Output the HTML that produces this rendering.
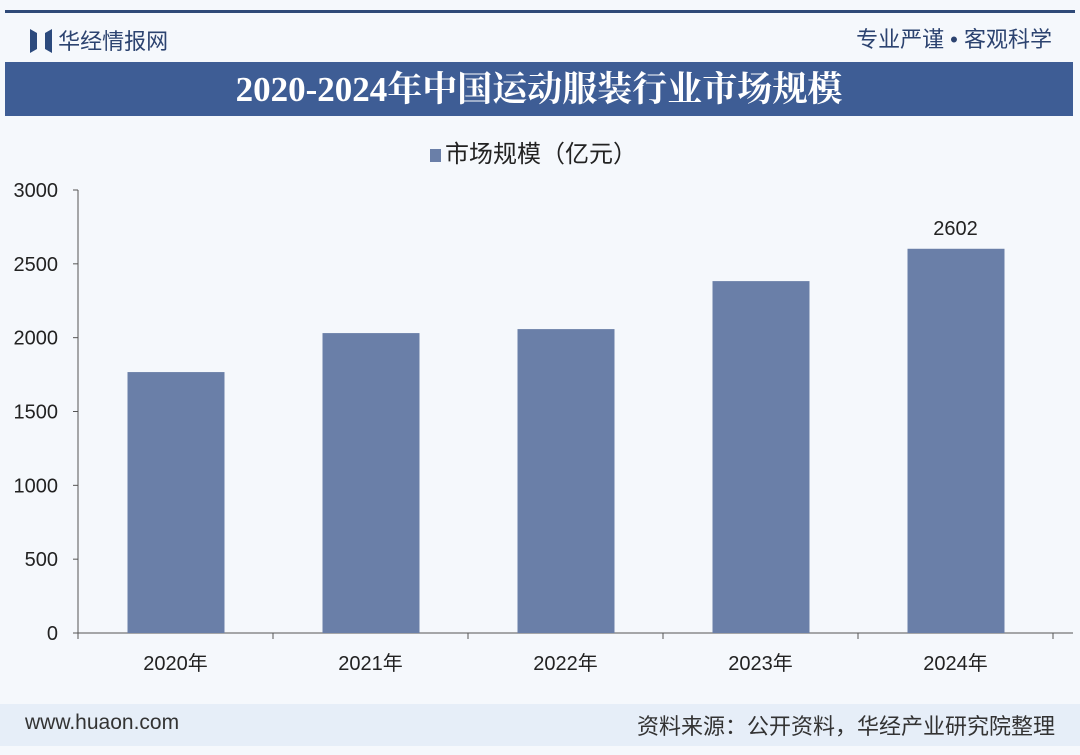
<!DOCTYPE html>
<html><head><meta charset="utf-8"><style>
body{margin:0;width:1080px;height:755px;background:#f5f8fc;font-family:"Liberation Sans","Noto Sans CJK SC",sans-serif;position:relative;overflow:hidden}
.a{position:absolute}
</style></head><body>
<div class="a" style="left:5px;top:10px;width:1070px;height:3px;background:#2f4a78"></div>
<div class="a" style="left:30px;top:24px;font-size:22px;color:#2c4370">
<svg width="22" height="24" style="vertical-align:-4px"><polygon points="0,0 7,4 7,20 0,24" fill="#2c4a7d"/><polygon points="22,0 15,4 15,20 22,24" fill="#2c4a7d"/></svg> 华经情报网</div>
<div class="a" style="right:28px;top:22px;font-size:22px;color:#2c4370">专业严谨 • 客观科学</div>
<div class="a" style="left:5px;top:62px;width:1068px;height:54px;background:#3e5d95;color:#fff;font-size:35px;font-weight:bold;text-align:center;line-height:56px;font-family:'Liberation Serif','Noto Serif CJK SC',serif">2020-2024年中国运动服装行业市场规模</div>
<div class="a" style="left:430px;top:134px;font-size:24px;color:#222"><span style="display:inline-block;width:11px;height:13px;background:#6a7fa8;margin-right:4px"></span>市场规模（亿元）</div>
<svg class="a" style="left:0;top:0" width="1080" height="755" id="c"></svg>
<div class="a" style="left:0;top:704px;width:1080px;height:42px;background:#e6eef8"></div>
<div class="a" style="left:25px;top:711px;font-size:21px;color:#333">www.huaon.com</div>
<div class="a" style="right:25px;top:709px;font-size:22px;color:#333">资料来源：公开资料，华经产业研究院整理</div>
<script>
const categories=["2020年","2021年","2022年","2023年","2024年"];
const values=[1767,2031,2058,2383,2602];
const labels=["","","","","2602"];
const yTicks=[0,500,1000,1500,2000,2500,3000];
const svg=document.getElementById('c');const NS='http://www.w3.org/2000/svg';
const x0=78,x1=1053,yb=633,yt=190,ymax=3000;
const y=v=>yb-(v/ymax)*(yb-yt);
const bw=(x1-x0)/categories.length;
function mk(t,a,txt){const e=document.createElementNS(NS,t);for(const k in a)e.setAttribute(k,a[k]);if(txt!=null)e.textContent=txt;svg.appendChild(e);return e;}
let ax=mk('line',{x1:x0,x2:x0,y1:yt,y2:yb,stroke:'#555'});


let bx=mk('line',{x1:x0,x2:1073,y1:yb,y2:yb,stroke:'#555'});


yTicks.forEach(t=>{mk('line',{x1:x0-5,x2:x0,y1:y(t),y2:y(t),stroke:'#555'});
const e=mk('text',{x:58,y:y(t)+7,'text-anchor':'end','font-size':20,fill:'#222','font-family':'Liberation Sans'},t);

});
for(let i=0;i<=categories.length;i++)mk('line',{x1:x0+i*bw,x2:x0+i*bw,y1:yb,y2:yb+6,stroke:'#555'});
categories.forEach((c,i)=>{const cx=x0+bw*(i+0.5);
const r=mk('rect',{x:cx-48,y:y(values[i]),width:97,height:yb-y(values[i]),fill:'#6a7fa8'});


const t=mk('text',{x:cx,y:670,'text-anchor':'middle','font-size':20,fill:'#222'},c);


if(labels[i]){const l=mk('text',{x:cx,y:y(values[i])-14,'text-anchor':'middle','font-size':20,fill:'#222'},labels[i]);

}});
</script>
</body></html>
